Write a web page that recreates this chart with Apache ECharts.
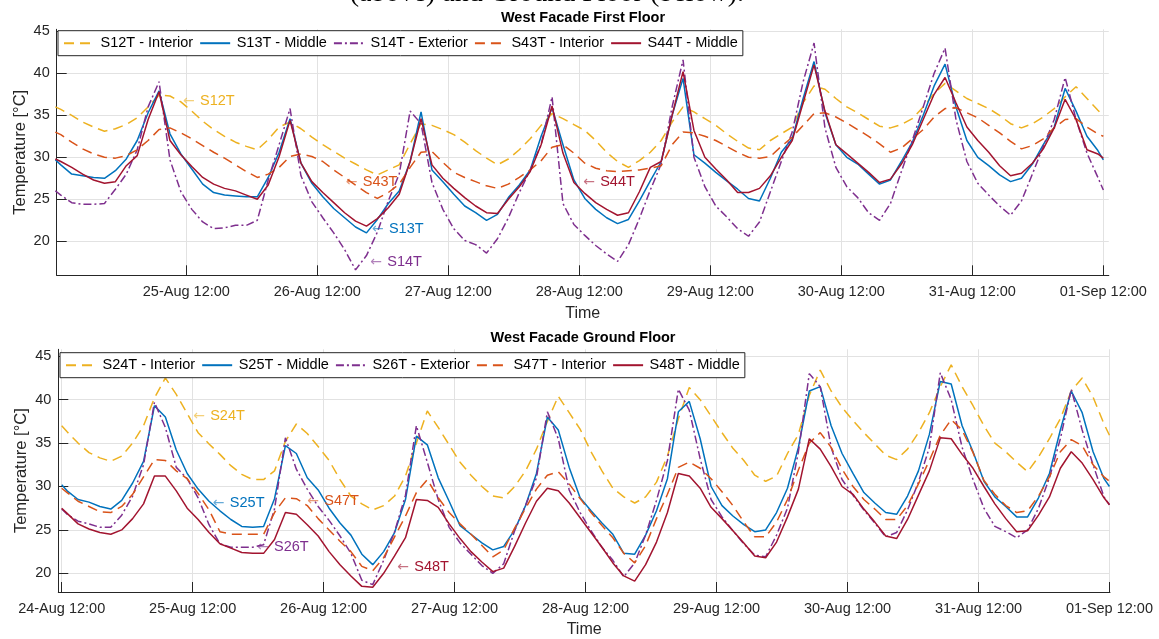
<!DOCTYPE html>
<html>
<head>
<meta charset="utf-8">
<script src="https://cdn.jsdelivr.net/npm/echarts@6/dist/echarts.min.js"></script>
<style>
html,body{margin:0;padding:0;background:#fff;}
#chart{width:1159px;height:639px;}
</style>
</head>
<body>
<div id="chart"></div>
<script>
// ---------------- DATA ----------------
// hours since 24-Aug 12:00
const times = [0,
  1,3,5,7,9,11,13,15,17,19,21,23,
  25,27,29,31,33,35,37,39,41,43,45,47,
  49,51,53,55,57,59,61,63,65,67,69,71,
  73,75,77,79,81,83,85,87,89,91,93,95,
  97,99,101,103,105,107,109,111,113,115,117,119,
  121,123,125,127,129,131,133,135,137,139,141,143,
  145,147,149,151,153,155,157,159,161,163,165,167,
  169,171,173,175,177,179,181,183,185,187,189,191,
  192];

// First floor
const S12T = [36.0,
  35.7,35.0,34.2,33.6,33.1,33.4,33.9,34.7,36.0,37.4,37.3,36.6,
  35.5,34.3,33.3,32.5,31.8,31.3,30.9,32.1,33.6,34.2,33.4,32.4,
  31.5,30.7,29.9,29.2,28.5,27.9,28.5,29.1,31.6,34.0,33.8,33.3,
  32.7,31.8,30.8,29.9,29.1,29.8,30.9,32.2,33.8,35.2,34.6,33.9,
  33.2,32.0,30.6,29.5,28.8,29.6,30.6,32.0,34.2,36.0,35.4,34.6,
  33.8,32.8,31.9,31.1,30.9,32.0,32.8,33.6,36.5,38.5,38.1,37.0,
  36.0,35.3,34.5,33.7,33.5,33.9,34.6,36.0,37.6,38.8,37.9,37.0,
  36.4,35.8,35.0,34.0,33.5,34.0,34.8,35.8,37.2,38.4,37.0,35.6,
  35.0];
const S13T = [29.7,
  29.1,28.0,27.8,27.6,27.5,28.4,29.8,32.0,35.3,37.9,32.8,30.4,
  28.6,26.8,25.8,25.5,25.4,25.3,25.3,27.6,30.6,34.6,29.3,26.9,
  25.3,23.9,22.8,21.7,21.0,22.6,24.5,26.0,29.5,35.4,28.5,27.1,
  25.6,24.2,23.4,22.5,23.2,25.2,26.7,28.5,32.5,35.9,31.5,27.3,
  25.1,23.8,22.8,22.1,22.6,24.8,27.2,29.5,35.0,39.4,30.3,29.3,
  28.2,27.2,26.2,25.1,24.8,27.5,30.6,32.2,37.0,41.4,35.3,31.5,
  30.0,29.2,28.0,26.8,27.3,29.5,31.8,35.0,38.5,41.1,36.0,32.0,
  30.0,29.0,27.9,27.1,27.5,29.2,31.5,33.6,38.2,35.5,32.5,30.8,
  29.7];
const S14T = [26.0,
  25.5,24.6,24.4,24.4,24.5,26.2,28.0,30.9,36.0,39.0,29.7,25.9,
  23.8,22.3,21.5,21.6,21.9,21.9,22.5,27.3,31.5,35.8,27.8,24.7,
  22.8,21.0,19.0,16.6,18.3,21.1,24.8,28.0,35.5,34.0,27.0,23.8,
  21.5,20.1,19.6,18.6,20.3,22.8,25.8,28.5,31.5,37.2,24.5,22.0,
  20.7,19.5,18.5,17.6,19.6,22.7,26.1,29.2,36.0,41.6,30.0,26.5,
  24.2,22.9,21.5,20.6,22.3,25.9,29.5,33.0,39.0,43.6,33.5,28.8,
  26.5,25.2,23.4,22.5,24.5,28.3,32.0,36.0,40.0,43.0,34.5,29.5,
  26.9,25.5,24.2,23.1,24.8,28.0,31.3,34.5,39.5,34.5,30.5,27.6,
  26.1];
const S43T = [33.0,
  32.7,31.8,31.0,30.4,30.0,29.9,30.2,30.9,32.0,33.3,33.5,32.9,
  32.2,31.4,30.6,29.9,29.1,28.3,27.6,28.0,28.8,30.1,30.4,30.1,
  29.5,28.5,27.6,26.7,25.8,25.1,25.8,26.8,28.8,30.6,30.7,29.4,
  28.2,27.6,27.1,26.6,26.3,26.8,27.6,28.5,29.6,31.2,31.5,30.5,
  29.3,28.7,28.4,28.3,28.4,28.5,28.7,29.0,31.5,33.0,32.9,32.5,
  32.0,31.3,30.6,30.0,29.9,30.1,31.3,32.4,33.8,35.2,35.3,34.8,
  34.1,33.3,32.5,31.6,30.6,31.1,32.2,33.3,34.8,35.8,35.9,35.3,
  34.7,33.8,32.9,31.9,31.0,31.4,32.2,33.5,34.5,34.6,33.6,32.8,
  32.5];
const S44T = [29.8,
  29.5,28.8,28.0,27.3,26.9,27.1,29.0,30.2,34.5,37.8,32.0,30.3,
  28.9,27.6,26.8,26.3,26.0,25.5,25.0,26.7,30.1,34.4,29.3,27.1,
  25.8,24.6,23.4,22.4,21.8,22.7,24.0,25.6,29.5,34.6,29.1,27.5,
  26.3,25.2,24.2,23.4,23.3,25.0,26.5,28.3,31.5,36.1,30.5,27.0,
  25.7,24.6,23.8,23.1,23.4,25.9,28.8,29.5,35.0,40.2,33.2,30.0,
  28.6,27.3,25.8,25.8,26.3,27.8,30.0,32.0,36.5,41.0,35.5,31.5,
  30.4,29.3,28.2,27.0,27.4,29.2,31.5,34.5,37.5,39.5,36.5,33.6,
  32.0,30.6,29.0,27.8,28.1,29.3,31.0,33.5,36.9,34.5,30.9,30.4,
  29.9];

// Ground floor
const S24T = [37.0,
  36.3,35.0,33.9,33.3,32.9,33.5,35.0,37.0,40.2,42.5,40.6,38.4,
  36.2,34.9,33.7,32.4,31.4,30.8,30.8,31.8,35.2,37.2,36.1,34.6,
  33.0,30.8,28.9,28.0,27.3,27.8,28.9,31.2,35.0,38.7,36.8,34.8,
  32.8,31.3,30.0,28.9,28.7,30.0,31.8,34.3,37.5,40.4,38.5,36.6,
  34.0,31.8,29.8,28.8,28.1,28.8,30.5,33.5,37.8,41.4,40.0,38.1,
  36.2,34.4,33.0,31.3,30.6,31.2,33.8,36.0,40.5,43.4,41.0,39.1,
  37.6,36.2,34.9,33.6,33.1,34.3,36.2,38.5,41.5,44.0,41.5,39.3,
  37.0,35.0,34.0,32.8,31.7,33.4,35.5,37.8,41.0,42.5,40.3,37.2,
  35.9];
const S25T = [30.2,
  29.5,28.5,28.2,27.7,27.4,28.4,30.4,32.9,39.3,38.0,34.2,31.5,
  29.7,28.3,27.2,26.2,25.4,25.3,25.4,28.6,34.7,33.8,31.0,29.6,
  27.5,25.8,24.4,22.2,21.0,22.5,24.7,28.5,35.8,34.8,31.0,28.3,
  25.5,24.5,23.5,22.7,23.1,25.0,27.8,31.5,38.0,36.5,32.2,28.7,
  27.2,25.8,24.5,22.3,22.2,24.4,27.2,30.9,38.6,39.8,35.5,30.0,
  27.8,26.6,25.6,24.8,25.0,27.0,29.8,34.5,41.0,41.5,37.0,33.8,
  31.5,29.3,28.1,27.0,26.8,28.9,31.8,36.0,42.1,41.8,37.0,34.0,
  30.6,28.8,27.7,26.5,26.5,28.7,31.5,36.5,41.0,38.5,34.0,30.9,
  30.0];
const S26T = [27.4,
  26.8,26.0,25.7,25.3,25.3,26.7,28.9,32.5,39.7,36.8,32.2,30.9,
  28.7,25.6,23.4,23.0,23.0,23.0,23.3,27.4,35.6,32.0,29.7,27.7,
  26.1,24.3,22.3,19.2,18.7,21.5,24.8,29.0,37.0,32.8,28.5,25.3,
  23.5,22.2,20.9,20.0,21.1,24.9,27.8,31.0,38.6,35.5,29.6,27.0,
  24.9,23.0,21.5,19.6,21.2,24.4,28.4,33.0,41.2,38.8,33.2,28.5,
  26.5,24.9,23.4,22.1,21.9,24.4,27.5,34.0,43.0,41.5,34.5,30.8,
  29.0,27.3,25.8,24.2,24.7,27.3,30.5,34.5,43.1,40.0,34.5,30.8,
  27.5,25.4,24.8,24.1,25.0,27.5,31.0,35.5,41.2,36.5,32.5,28.8,
  27.9];
const S47T = [29.8,
  29.3,28.3,27.7,27.1,27.0,27.7,29.1,31.1,33.1,33.0,31.8,30.9,
  29.2,27.3,24.8,24.5,24.5,24.5,24.5,27.0,28.7,28.6,27.8,26.3,
  25.0,23.7,22.5,20.8,20.3,21.8,24.2,26.6,29.3,30.8,28.7,27.0,
  25.7,24.5,23.2,21.9,22.7,25.2,27.5,29.7,31.3,31.7,30.3,28.6,
  27.0,25.5,24.1,22.3,21.2,23.2,26.3,29.1,32.2,32.8,32.1,30.9,
  29.4,27.8,25.9,24.2,24.2,25.9,28.5,31.9,35.0,36.2,34.5,32.0,
  30.0,28.5,27.4,26.2,26.2,27.8,30.3,33.0,35.9,37.7,36.5,33.9,
  30.7,29.1,27.8,27.0,27.2,28.9,31.1,34.0,35.4,34.7,32.5,31.1,
  30.6];
const S48T = [27.5,
  26.9,25.7,25.1,24.7,24.5,25.0,26.3,28.0,31.2,31.2,29.5,27.5,
  26.2,24.7,23.4,22.9,22.4,22.3,22.3,23.9,27.0,26.8,25.6,24.3,
  22.5,21.0,19.7,18.5,18.4,20.0,22.0,24.1,28.5,28.4,27.6,25.7,
  24.0,22.5,21.3,20.2,20.6,23.1,25.8,28.3,29.8,29.5,28.1,26.4,
  24.7,23.0,21.2,19.7,19.1,21.0,23.6,27.0,31.5,31.2,29.8,27.6,
  26.3,24.9,23.5,22.0,21.8,23.6,26.5,29.7,35.5,34.3,32.3,30.0,
  29.1,27.4,25.9,24.3,24.0,26.2,29.0,31.8,35.6,35.5,33.7,32.1,
  30.0,28.0,26.3,24.8,24.9,26.7,28.8,32.1,34.0,32.7,30.8,28.7,
  27.9];

// tick positions (hours since 24-Aug 12:00) and y tick values
const xTicksTop = [24,48,72,96,120,144,168,192];
const xTicksBottom = [0,24,48,72,96,120,144,168,192];
const yTicks = [20,25,30,35,40,45];

const topNames = ['S12T - Interior','S13T - Middle','S14T - Exterior','S43T - Interior','S44T - Middle'];
const bottomNames = ['S24T - Interior','S25T - Middle','S26T - Exterior','S47T - Interior','S48T - Middle'];
const topValues = [S12T,S13T,S14T,S43T,S44T];
const bottomValues = [S24T,S25T,S26T,S47T,S48T];

// annotation anchors in data units [hours, °C] (left end of the arrow)
const topNotes = [
  {s:0, text:'S12T', at:[23.4,36.7]},
  {s:3, text:'S43T', at:[53.2,27.06]},
  {s:1, text:'S13T', at:[58.0,21.46]},
  {s:2, text:'S14T', at:[57.7,17.5]},
  {s:4, text:'S44T', at:[96.7,27.06]}
];
const bottomNotes = [
  {s:0, text:'S24T', at:[24.1,38.1]},
  {s:1, text:'S25T', at:[27.7,28.1]},
  {s:3, text:'S47T', at:[45.0,28.3]},
  {s:2, text:'S26T', at:[35.8,23.0]},
  {s:4, text:'S48T', at:[61.5,20.7]}
];

// ---------------- STYLE ----------------
const FONT = "'Liberation Sans', Arial, Helvetica, sans-serif";
const INK = '#262626';
const colors = ['#EDB120','#0072BD','#7E2F8E','#D95319','#A2142F'];
const arrowColors = ['rgba(237,177,32,0.6)','rgba(0,114,189,0.6)','rgba(126,47,142,0.6)','rgba(217,83,25,0.6)','rgba(162,20,47,0.6)'];
const dashes = [[10,6],'solid',[8,3,2,3],[10,6],'solid'];

const MONTHS = ['Jan','Feb','Mar','Apr','May','Jun','Jul','Aug','Sep','Oct','Nov','Dec'];
function fmtTime(h){
  const d = new Date(Date.UTC(2021,7,24,12) + h*3600000);
  const p = n => String(n).padStart(2,'0');
  return p(d.getUTCDate()) + '-' + MONTHS[d.getUTCMonth()] + ' ' + p(d.getUTCHours()) + ':' + p(d.getUTCMinutes());
}

function xAxisCfg(gi, min, max, ticks){
  return {
    gridIndex: gi, type:'value', min:min, max:max,
    name:'Time', nameLocation:'middle', nameGap:30,
    nameTextStyle:{fontFamily:FONT, fontSize:16, color:INK},
    axisLine:{show:true, onZero:false, lineStyle:{color:INK, width:1}},
    axisTick:{show:true, inside:true, length:10, customValues:ticks, lineStyle:{color:INK, width:1}},
    axisLabel:{show:true, customValues:ticks, formatter:v=>fmtTime(v), fontFamily:FONT, fontSize:14.5, color:INK, margin:9},
    splitLine:{show:true, lineStyle:{color:'#e2e2e2', width:1}}
  };
}
function yAxisCfg(gi, min, max){
  return {
    gridIndex: gi, type:'value', min:min, max:max,
    name:'Temperature [°C]', nameLocation:'middle', nameGap:28, nameMoveOverlap:false,
    nameTextStyle:{fontFamily:FONT, fontSize:16.5, color:INK},
    axisLine:{show:true, onZero:false, lineStyle:{color:INK, width:1}},
    axisTick:{show:true, inside:true, length:10, customValues:yTicks, lineStyle:{color:INK, width:1}},
    axisLabel:{show:true, customValues:yTicks, fontFamily:FONT, fontSize:14.5, color:INK, margin:7},
    splitLine:{show:true, lineStyle:{color:'#e2e2e2', width:1}}
  };
}

function makeSeries(names, values, gi){
  return names.map((nm, i) => ({
    name: nm, type:'line', xAxisIndex:gi, yAxisIndex:gi,
    data: times.map((t, k) => [t, values[i][k]]),
    symbol:'none', showSymbol:false, clip:true,
    lineStyle:{color:colors[i], width:1.5, type:dashes[i]},
    itemStyle:{color:colors[i]},
    emphasis:{disabled:true},
    z: 2
  }));
}

function legendCfg(names, left, top){
  return {
    data: names, left:left, top:top, orient:'horizontal',
    itemWidth:30, itemHeight:14, itemGap:6,
    padding:[5,5,5,5],
    borderColor:INK, borderWidth:1, backgroundColor:'#ffffff',
    itemStyle:{opacity:0, borderWidth:0},
    textStyle:{fontFamily:FONT, fontSize:14.5, color:'#000', padding:[0,0,0,1.5]},
    selectedMode:false, z:10
  };
}

const chart = echarts.init(document.getElementById('chart'), null, {renderer:'canvas'});
chart.setOption({
  animation:false,
  backgroundColor:'#ffffff',
  grid:[
    {left:56.7, top:29.3, width:1052.1, height:246},
    {left:58.3, top:349.3, width:1051.7, height:246}
  ],
  xAxis:[ xAxisCfg(0, 0.25, 193, xTicksTop), xAxisCfg(1, -0.62, 192.1, xTicksBottom) ],
  yAxis:[ yAxisCfg(0, 15.95, 45.24), yAxisCfg(1, 17.85, 45.8) ],
  legend:[ legendCfg(topNames, 58, 30.7), legendCfg(bottomNames, 60, 352.7) ],
  series:[
    ...makeSeries(topNames, topValues, 0),
    ...makeSeries(bottomNames, bottomValues, 1)
  ]
});

// annotations: anchored in data units, converted through the chart's own scales
const graphics = [
  {type:'text', x:744, y:8, style:{text:'(above) and Ground Floor (below).', font:"28px 'Liberation Serif', 'Times New Roman', serif", fill:'#000', textAlign:'right', textVerticalAlign:'bottom'}},
  {type:'text', x:583, y:18.3, style:{text:'West Facade First Floor', font:"bold 14.5px 'Liberation Sans', Arial, sans-serif", fill:'#000', textAlign:'center', textVerticalAlign:'middle'}},
  {type:'text', x:583, y:338.3, style:{text:'West Facade Ground Floor', font:"bold 14.5px 'Liberation Sans', Arial, sans-serif", fill:'#000', textAlign:'center', textVerticalAlign:'middle'}}
];
function addNotes(notes, gi){
  notes.forEach(n => {
    const p = chart.convertToPixel({xAxisIndex:gi, yAxisIndex:gi}, n.at);
    const c = colors[n.s];
    graphics.push({type:'text', x:p[0], y:p[1], z:20, style:{text:'←', font:"14px 'DejaVu Sans', sans-serif", fill:arrowColors[n.s], textAlign:'left', textVerticalAlign:'middle'}});
    graphics.push({type:'text', x:p[0]+17, y:p[1], z:20, style:{text:n.text, font:"14.5px 'Liberation Sans', Arial, sans-serif", fill:c, textAlign:'left', textVerticalAlign:'middle'}});
  });
}
addNotes(topNotes, 0);
addNotes(bottomNotes, 1);
chart.setOption({graphic: graphics});
</script>
</body>
</html>
